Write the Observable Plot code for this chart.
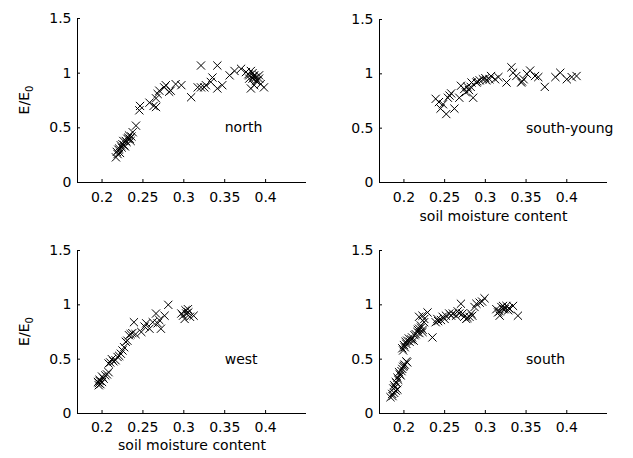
<!DOCTYPE html>
<html><head><meta charset="utf-8">
<script src="https://cdn.jsdelivr.net/npm/d3@7"></script>
<script src="https://cdn.jsdelivr.net/npm/@observablehq/plot@0.6"></script>
<style>
body{margin:0;background:#fff;}
#wrap{position:relative;width:633px;height:458px;overflow:hidden;background:#fff;}
#wrap svg{position:absolute;}
</style></head><body><div id="wrap"></div>
<script>
const xTicks = [0.2, 0.25, 0.3, 0.35, 0.4];
const yTicks = [0, 0.5, 1, 1.5];
const xDomain = [0.17, 0.45];
const yDomain = [0, 1.5];
const panelNames = ["north", "south-young", "west", "south"];
const nameX = [0.35, 0.35, 0.35, 0.35];
const nameY = [0.5, 0.5, 0.5, 0.5];
const xTitle = "soil moisture content";

const northX = [0.217,0.218,0.219,0.220,0.221,0.222,0.223,0.224,0.225,0.226,0.227,0.228,0.229,0.230,0.231,0.232,0.233,0.234,0.235,0.236,0.2375,0.2415,0.2456,0.2465,0.258,0.263,0.266,0.266,0.268,0.270,0.276,0.278,0.282,0.284,0.290,0.297,0.309,0.317,0.321,0.321,0.325,0.327,0.333,0.335,0.341,0.341,0.347,0.356,0.362,0.370,0.376,0.379,0.380,0.380,0.382,0.382,0.384,0.384,0.385,0.386,0.386,0.388,0.388,0.390,0.392,0.392,0.394,0.398];
const northY = [0.23,0.28,0.26,0.30,0.31,0.27,0.34,0.32,0.35,0.38,0.34,0.33,0.38,0.37,0.40,0.41,0.43,0.40,0.38,0.42,0.46,0.52,0.66,0.70,0.73,0.70,0.69,0.77,0.81,0.84,0.87,0.89,0.83,0.84,0.90,0.89,0.78,0.87,1.07,0.87,0.87,0.89,0.92,0.96,1.07,0.86,0.89,0.98,1.02,1.04,1.01,0.99,0.98,0.95,1.02,0.86,0.95,1.00,0.97,0.98,0.89,0.96,0.93,0.93,0.98,0.95,0.90,0.87];

const youngX = [0.239,0.243,0.245,0.248,0.252,0.254,0.256,0.258,0.262,0.268,0.270,0.274,0.276,0.278,0.280,0.282,0.283,0.285,0.289,0.290,0.293,0.297,0.300,0.301,0.305,0.307,0.312,0.316,0.326,0.332,0.334,0.338,0.344,0.345,0.347,0.351,0.355,0.361,0.365,0.373,0.386,0.392,0.400,0.406,0.412];
const youngY = [0.77,0.74,0.68,0.72,0.63,0.78,0.80,0.82,0.68,0.78,0.89,0.86,0.83,0.88,0.85,0.88,0.92,0.78,0.92,0.93,0.94,0.95,0.96,0.94,0.95,0.98,0.95,0.97,0.92,1.06,1.01,0.98,0.92,0.93,0.95,1.00,1.03,0.98,0.97,0.88,0.97,1.01,0.95,0.97,0.98];

const westX = [0.195,0.196,0.196,0.197,0.197,0.198,0.200,0.200,0.202,0.204,0.206,0.208,0.208,0.210,0.212,0.214,0.2165,0.219,0.221,0.223,0.225,0.227,0.229,0.231,0.233,0.235,0.237,0.239,0.241,0.248,0.252,0.254,0.258,0.262,0.266,0.268,0.270,0.272,0.2765,0.281,0.297,0.299,0.301,0.302,0.303,0.305,0.3055,0.3075,0.312];
const westY = [0.29,0.26,0.28,0.31,0.30,0.27,0.29,0.34,0.32,0.35,0.36,0.38,0.46,0.47,0.50,0.48,0.49,0.52,0.53,0.55,0.58,0.61,0.66,0.67,0.72,0.73,0.74,0.84,0.73,0.75,0.80,0.83,0.78,0.84,0.92,0.83,0.86,0.78,0.90,1.00,0.92,0.90,0.87,0.95,0.92,0.96,0.93,0.89,0.90];

const southX = [0.1835,0.186,0.1856,0.187,0.188,0.188,0.189,0.190,0.190,0.191,0.192,0.192,0.193,0.194,0.195,0.196,0.197,0.198,0.199,0.200,0.201,0.203,0.204,0.198,0.199,0.200,0.201,0.202,0.203,0.204,0.206,0.207,0.209,0.210,0.212,0.213,0.2145,0.2166,0.217,0.2186,0.2186,0.219,0.2207,0.221,0.2228,0.2228,0.223,0.2248,0.225,0.229,0.235,0.239,0.241,0.242,0.2455,0.2475,0.250,0.2516,0.2557,0.258,0.260,0.264,0.266,0.268,0.270,0.272,0.274,0.2765,0.278,0.2805,0.2826,0.284,0.2867,0.289,0.293,0.296,0.299,0.3135,0.3156,0.3176,0.3176,0.3197,0.3217,0.322,0.3238,0.3259,0.328,0.329,0.330,0.334,0.340];
const southY = [0.15,0.16,0.18,0.23,0.19,0.26,0.24,0.21,0.29,0.28,0.22,0.33,0.31,0.38,0.36,0.35,0.39,0.41,0.43,0.44,0.45,0.48,0.47,0.60,0.58,0.63,0.61,0.66,0.64,0.67,0.69,0.66,0.68,0.70,0.67,0.72,0.73,0.75,0.77,0.78,0.89,0.74,0.81,0.79,0.90,0.75,0.77,0.84,0.87,0.93,0.70,0.84,0.87,0.85,0.86,0.89,0.87,0.90,0.92,0.90,0.92,0.90,0.94,0.92,1.01,0.92,0.89,0.87,0.88,0.89,0.92,0.90,0.98,1.01,1.02,1.03,1.06,0.96,0.93,0.90,0.94,0.98,0.99,0.96,0.96,0.99,0.95,0.97,0.96,0.99,0.90];

const FONT = "'DejaVu Sans', 'Liberation Sans', sans-serif";
const wrap = document.getElementById("wrap");

function panel(cfg) {
  const {xs, ys, idx, left, top, width, height, mL, mR, mT, mB, showX, xDy, xPad, showY} = cfg;
  const data = xs.map((x, i) => ({x, y: ys[i]}));
  const fw = width - mL - mR, fh = height - mT - mB;
  const marks = [
    Plot.ruleY([yDomain[0]], {stroke: "black", strokeWidth: 1}),
    Plot.ruleX([xDomain[0]], {stroke: "black", strokeWidth: 1}),
    Plot.tickX(xTicks, {x: d => d, insetTop: fh - 3, stroke: "black", strokeWidth: 1}),
    Plot.tickY(yTicks, {y: d => d, insetRight: fw - 3, stroke: "black", strokeWidth: 1}),
    Plot.axisX({ticks: xTicks, tickSize: 0, tickPadding: xPad, tickFormat: d => String(d), label: null, fill: "black", fontSize: 14}),
    Plot.axisY({ticks: yTicks, tickSize: 0, tickPadding: 6, tickFormat: d => String(d), label: null, fill: "black", fontSize: 14}),
    Plot.dot(data, {x: "x", y: "y", symbol: "times", r: 3.8, stroke: "black", strokeWidth: 1, fill: "none"}),
    Plot.text([{t: panelNames[idx], x: nameX[idx], y: nameY[idx]}], {x: "x", y: "y", text: "t", textAnchor: "start", fontSize: 14, fill: "black"})
  ];
  if (showX) marks.push(Plot.text([xTitle], {frameAnchor: "bottom", lineAnchor: "bottom", dy: xDy, fontSize: 14, fill: "black"}));
  const svg = Plot.plot({
    width, height, marginLeft: mL, marginRight: mR, marginTop: mT, marginBottom: mB,
    style: {fontFamily: FONT, fontSize: "14px", background: "transparent", overflow: "visible", color: "black"},
    x: {domain: xDomain}, y: {domain: yDomain},
    marks
  });
  if (showY) {
    const t = d3.select(svg).append("text")
      .attr("transform", `translate(29,${mT + fh / 2}) rotate(-90)`)
      .attr("text-anchor", "middle")
      .attr("font-family", FONT).attr("font-size", 14).attr("fill", "black");
    t.append("tspan").text("E/E");
    t.append("tspan").attr("dy", 4).attr("font-size", 10).text("0");
  }
  svg.style.left = left + "px";
  svg.style.top = top + "px";
  wrap.appendChild(svg);
}

panel({xs: northX, ys: northY, idx: 0, left: 0, top: 0, width: 316, height: 229, mL: 77, mR: 10, mT: 18, mB: 47, showX: false, xPad: 10, showY: true});
panel({xs: youngX, ys: youngY, idx: 1, left: 316, top: 0, width: 317, height: 229, mL: 63, mR: 26, mT: 19, mB: 47, showX: true, xDy: 38, xPad: 10, showY: false});
panel({xs: westX, ys: westY, idx: 2, left: 0, top: 229, width: 316, height: 229, mL: 77, mR: 10, mT: 21, mB: 45, showX: true, xDy: 36, xPad: 9, showY: true});
panel({xs: southX, ys: southY, idx: 3, left: 316, top: 229, width: 317, height: 229, mL: 63, mR: 26, mT: 21, mB: 45, showX: false, xPad: 9, showY: false});
</script></body></html>
